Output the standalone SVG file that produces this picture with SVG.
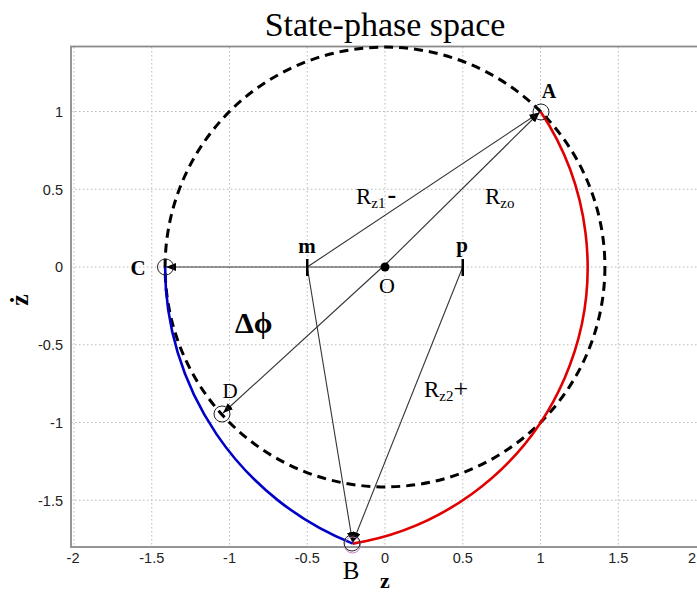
<svg xmlns="http://www.w3.org/2000/svg" width="697" height="592" viewBox="0 0 697 592">
<style>
.grid{stroke:#b8b8b8;stroke-width:1;stroke-dasharray:1.5 2.5;fill:none}
.tick{font-family:"Liberation Sans",Arial,sans-serif;font-size:14.5px;fill:#222}
.lbl{font-family:"Liberation Serif","Times New Roman",serif;fill:#000}
.b{font-weight:bold}
.ln{stroke:#333;stroke-width:1.1;fill:none}
.pt{stroke:#222;stroke-width:1;fill:none}
</style>
<defs>
<marker id="ah" viewBox="0 0 10 8" refX="10" refY="4" markerWidth="10" markerHeight="8" markerUnits="userSpaceOnUse" orient="auto">
<path d="M0,0 L10,4 L0,8 Z" fill="#000"/>
</marker>
</defs>
<rect width="697" height="592" fill="#fff"/>
<text class="lbl" x="385" y="36" font-size="34" text-anchor="middle">State-phase space</text>
<g id="axes">
<g class="grid">
<line x1="151.75" y1="47" x2="151.75" y2="547"/>
<line x1="229.5" y1="47" x2="229.5" y2="547"/>
<line x1="307.25" y1="47" x2="307.25" y2="547"/>
<line x1="385" y1="47" x2="385" y2="547"/>
<line x1="462.75" y1="47" x2="462.75" y2="547"/>
<line x1="540.5" y1="47" x2="540.5" y2="547"/>
<line x1="618.25" y1="47" x2="618.25" y2="547"/>
<line x1="74" y1="47" x2="74" y2="547"/>
<line x1="71" y1="111.5" x2="697" y2="111.5"/>
<line x1="71" y1="189.25" x2="697" y2="189.25"/>
<line x1="71" y1="267" x2="697" y2="267"/>
<line x1="71" y1="344.75" x2="697" y2="344.75"/>
<line x1="71" y1="422.5" x2="697" y2="422.5"/>
<line x1="71" y1="500.25" x2="697" y2="500.25"/>
</g>
<rect x="71" y="46.5" width="628" height="500.5" fill="none" stroke="#8a8a8a" stroke-width="1.8"/>
<g class="tick" text-anchor="middle">
<text x="73" y="563">-2</text>
<text x="151.75" y="563">-1.5</text>
<text x="229.5" y="563">-1</text>
<text x="307.25" y="563">-0.5</text>
<text x="385" y="563">0</text>
<text x="462.75" y="563">0.5</text>
<text x="540.5" y="563">1</text>
<text x="618.25" y="563">1.5</text>
<text x="692" y="563">2</text>
</g>
<g class="tick" text-anchor="end">
<text x="63" y="117">1</text>
<text x="63" y="195">0.5</text>
<text x="63" y="272">0</text>
<text x="63" y="350">-0.5</text>
<text x="63" y="428">-1</text>
<text x="63" y="506">-1.5</text>
</g>
<text class="lbl b" x="385" y="588" font-size="22" text-anchor="middle">z</text>
<text class="lbl b" transform="translate(28,300) rotate(-90)" font-size="26" text-anchor="middle">ż</text>
</g>
<g id="curves">
<circle cx="385" cy="267" r="219.9" fill="none" stroke="#000" stroke-width="3" stroke-dasharray="9 6"/>
<path d="M540.5,111.5 A280.3,280.3 0 0 1 352.8,543.6" fill="none" stroke="#e00000" stroke-width="2.6"/>
<path d="M165.1,267 A297.7,297.7 0 0 0 352.8,543.6" fill="none" stroke="#0000c8" stroke-width="2.6"/>
</g>
<g id="connectors">
<line class="ln" x1="462.75" y1="267" x2="166" y2="267" marker-end="url(#ah)"/>
<line class="ln" x1="307.25" y1="267" x2="539.5" y2="112.5" marker-end="url(#ah)"/>
<line class="ln" x1="385" y1="265" x2="539.5" y2="112.5" marker-end="url(#ah)"/>
<line class="ln" x1="388" y1="262" x2="223" y2="413" marker-end="url(#ah)"/>
<line class="ln" x1="307.25" y1="267" x2="352.5" y2="542" marker-end="url(#ah)"/>
<line class="ln" x1="462.75" y1="267" x2="353" y2="542" marker-end="url(#ah)"/>
</g>
<g id="node-m">
<line x1="307.25" y1="259" x2="307.25" y2="276" stroke="#000" stroke-width="2.5"/>
<text class="lbl b" x="307" y="253" font-size="21" text-anchor="middle">m</text>
</g>
<g id="node-p">
<line x1="462.75" y1="259" x2="462.75" y2="276" stroke="#000" stroke-width="2.5"/>
<text class="lbl b" x="462" y="252" font-size="21" text-anchor="middle">p</text>
</g>
<g id="node-O">
<circle cx="385" cy="267" r="4.5" fill="#000"/>
<text class="lbl" x="387" y="293" font-size="22" text-anchor="middle">O</text>
</g>
<g id="node-A">
<circle class="pt" cx="541" cy="112" r="8"/>
<text class="lbl b" x="549" y="98" font-size="20" text-anchor="middle">A</text>
</g>
<g id="node-C">
<circle class="pt" cx="165.5" cy="267" r="8"/>
<text class="lbl b" x="138" y="275" font-size="21" text-anchor="middle">C</text>
</g>
<g id="node-D">
<circle class="pt" cx="222" cy="414" r="8"/>
<text class="lbl" x="230" y="398" font-size="21" text-anchor="middle">D</text>
</g>
<g id="node-B">
<circle cx="352.5" cy="545" r="8" fill="none" stroke="#c080c0" stroke-width="1"/>
<circle class="pt" cx="352" cy="543" r="8"/>
<text class="lbl" x="351" y="579" font-size="25" text-anchor="middle">B</text>
</g>
<g id="labels">
<text class="lbl" x="356" y="204" font-size="23">R<tspan font-size="15" dy="4">z1</tspan><tspan font-size="26" font-weight="bold" dy="-5" dx="2">-</tspan></text>
<text class="lbl" x="485" y="204" font-size="23">R<tspan font-size="15" dy="4">zo</tspan></text>
<text class="lbl" x="424" y="397" font-size="23">R<tspan font-size="15" dy="4">z2</tspan><tspan font-size="26" dy="-4">+</tspan></text>
<text class="lbl b" x="235" y="333" font-size="30">Δϕ</text>
</g>
</svg>
